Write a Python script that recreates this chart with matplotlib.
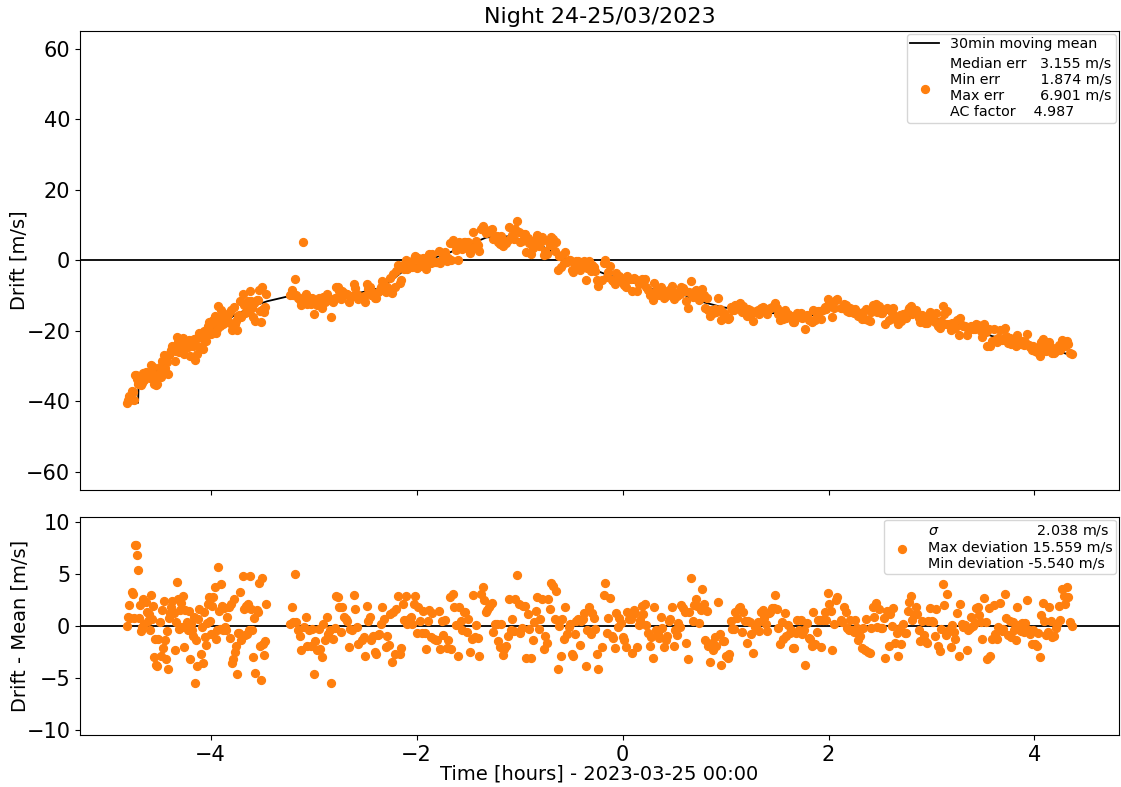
import numpy as np
import matplotlib.pyplot as plt

# 30 min moving mean (hours, m/s)
mean_t = [-4.75, -4.705, -4.70, -4.52, -4.36, -4.07, -3.78, -3.59, -3.45, -3.23,
          -3.00, -2.74, -2.48, -2.33, -2.15, -1.87, -1.68, -1.32, -1.10, -0.93,
          -0.78, -0.61, -0.45, -0.16, 0.10, 0.29, 0.58, 0.75, 0.97, 1.23,
          1.55, 1.81, 2.04, 2.30, 2.52, 2.81, 3.07, 3.34, 3.59, 3.82,
          4.07, 4.31, 4.36]
mean_v = [-40.4, -40.4, -35.6, -31.3, -26.5, -21.5, -15.8, -13.0, -11.6, -10.1,
          -10.5, -10.5, -8.7, -7.7, -3.5, 0.3, 2.2, 6.5, 6.8, 5.4,
          4.0, 1.1, -0.6, -4.0, -6.3, -8.2, -9.6, -11.6, -13.3, -14.4,
          -15.2, -15.8, -13.8, -14.4, -14.7, -15.8, -16.7, -18.9, -21.5, -22.9,
          -24.3, -26.5, -26.6]

# drift - mean, block by block (start, end in hours)
blocks = [
    (-4.81, -3.45, [
        0.0, 0.9, 2.0, 0.8, 3.3, 3.1, 0.8, 7.8, 7.8, 6.8, 5.4, 0.8, 2.0, -0.5, -0.1, 2.6,
        0.2, 2.3, 1.3, 0.5, 1.1, -0.4, 3.0, 0.7, 1.9, -3.0, -1.3, -3.8, -3.9, -1.3, 0.4,
        -2.9, 1.5, -2.1, 2.4, -1.4, -3.2, -0.5, -4.1, 0.8, 1.2, 1.8, 2.4, 1.2, -2.3, 0.4,
        4.2, 2.6, -0.3, 1.5, 2.2, -0.1, 2.9, -2.0, 1.5, 0.4, -0.4, 1.4, -3.2, 0.2, -0.4,
        -1.0, 0.9, -5.5, -1.4, -3.9, 0.7, 1.6, -2.7, -0.1, -3.6, 1.3, -1.1, -1.8, 0.3,
        2.1, 2.8, 0.5, -0.8, 1.9, 2.8, 3.7, -1.3, -0.4, 5.7, 1.4, -0.3, 4.0, 1.9, -0.4,
        1.7, -0.1, -0.4, 0.9, 1.8, -1.2, 2.1, -3.6, -3.2, 2.6, -2.5, -1.9, -4.6, -0.7,
        -0.7, 3.3, -1.4, 4.8, 1.6, -0.9, 1.9, -0.8, 2.1, -0.4, 4.8, 1.6, -0.4, -3.0,
        0.8, -4.5, 1.5, 1.3, 4.1, -1.9, -5.2, 4.6, -1.7, -2.8, -1.5, 2.1]),
    (-3.23, -2.55, [
        0.2, 1.8, 0.4, 5.0, 0.4, -0.4, -1.0, -2.3, 15.559, -0.1, 0.9, -1.9, -0.4, -1.9,
        -0.3, -4.6, -1.5, -2.3, -0.3, -2.2, -3.0, 0.2, -1.4, 0.9, -0.8, -0.4, -5.54,
        -1.3, -0.2, 2.9, 2.8, 1.8, -0.6, 1.8, 0.9, 0.7, 0.5, -2.0, -0.3, -0.4, 3.0, 1.6,
        -0.1, -1.7]),
    (-2.53, -0.22, [
        -1.4, -1.1, -2.9, 1.9, 0.5, 0.9, -1.4, -1.0, -2.5, -2.7, -0.9, -0.8, 0.2, 1.8,
        0.7, -2.0, -1.0, -1.8, 1.1, -3.5, 1.3, -2.7, 1.6, 2.9, -2.7, -2.1, 2.1, 0.6, 2.9,
        0.2, 0.7, 0.9, 0.2, 2.1, 2.9, -0.7, 1.8, 0.5, -0.7, 1.4, -0.7, -2.2, 0.5, 1.5,
        -1.1, 1.2, -1.3, -1.4, -1.4, 1.4, -2.2, 0.5, -0.9, 0.6, -2.1, -1.4, 2.8, -2.2,
        3.1, 1.8, 0.1, -2.9, 1.8, 0.5, -0.4, 1.3, 1.3, -0.6, 0.7, -2.5, -1.3, 3.0, -1.1,
        0.1, -1.2, -2.9, 3.1, 3.7, 2.5, 1.3, 1.5, 1.8, 2.0, 2.2, -0.6, 0.2, 0.2, -1.5,
        -2.0, 0.2, -2.8, -2.2, -1.9, -1.0, 2.6, -0.4, 0.7, -0.5, 2.6, 4.9, 2.1, -0.7,
        -0.2, 1.9, 1.9, -3.1, 1.1, -0.3, -3.1, -1.4, 0.4, 1.4, 2.8, -0.3, 0.7, 2.6,
        -2.2, -1.0, -1.6, 2.6, 1.6, 4.1, 3.8, 0.7, 3.4, -4.1, 0.0, -2.9, 0.7, -1.3, 1.8,
        -0.8, -0.1, 0.2, -2.7, -2.9, -0.8, 0.5, 0.7, -1.8, 0.5, 0.7, 1.2, -3.9, -0.4,
        1.8, -0.8, 1.2, 0.8, -0.3, -2.7, -4.1]),
    (-0.20, 2.10, [
        -2.0, 3.0, 4.1, -0.7, 0.8, 2.7, -1.0, -1.2, -2.1, 1.2, -0.1, 0.8, 0.3, -1.1, -1.4,
        -2.0, 1.3, 0.7, 0.7, -2.6, 1.5, 1.2, -2.0, 0.1, 0.6, 1.9, 1.1, 2.1, 0.1, -0.7,
        -1.9, -1.1, -3.1, 1.8, -0.4, -0.8, -1.2, 0.9, -0.2, -2.0, -1.4, -1.0, 0.5, 0.7,
        1.8, -1.9, -0.4, -0.9, 0.3, -0.1, 2.0, 1.7, 1.3, -1.6, -3.2, 1.3, 4.6, 0.5, 2.0,
        2.6, 1.9, 0.3, 1.5, 3.5, 2.1, -1.4, 1.4, -1.9, -3.5, -1.6, -2.3, -1.1, -1.9, 2.3,
        -0.8, -3.8, -1.5, -1.5, -2.9, -3.1, -2.7, 0.5, -0.3, -0.3, 1.3, 0.8, 1.7, 1.8,
        -0.6, 1.3, 0.5, -1.6, 0.5, 0.4, -0.8, -2.6, -0.1, 0.1, 0.4, -0.5, 1.3, 1.5, 0.8,
        0.2, -0.5, 1.2, 1.3, 1.7, 1.7, 3.0, 1.6, -0.2, -1.7, 0.4, -1.3, 1.2, -1.0, 0.1,
        -0.7, -0.4, -2.1, -2.1, -0.7, 0.6, -0.4, 0.6, -0.8, -0.4, -3.8, 0.3, -1.2, -1.3,
        -1.9, 1.3, -1.7, -0.6, 0.6, 0.6, -2.0, 0.6, 1.3, 0.6, 3.2, 2.1, 1.4, -2.3, 0.2,
        2.5, 2.8]),
    (2.12, 4.36, [
        0.6, 0.4, 1.8, 1.3, -0.2, -0.4, 0.6, -0.4, -0.6, 0.6, -0.2, -1.4, -1.0, -2.1,
        -0.2, -2.3, 0.7, -2.5, -2.6, -0.2, 1.8, 0.9, 2.2, -0.1, 1.6, -0.2, -0.2, 0.8,
        -3.1, 1.4, -1.9, 1.1, 0.0, 1.7, -1.6, -0.7, -2.9, -0.2, -1.7, 0.2, -0.7, -0.7,
        1.4, 2.3, 2.9, 0.6, 1.0, 1.8, 1.1, -0.4, -1.5, 0.5, -0.9, -1.5, -1.6, 0.5, 1.7,
        0.5, 0.4, -1.0, 1.6, -1.9, -2.4, -0.3, 4.0, 2.0, -0.9, 3.1, -0.4, -2.0, 0.1,
        -0.6, -1.3, 1.2, -2.9, 2.1, 0.2, -0.1, 0.1, -2.3, -0.4, -0.2, 0.9, 0.0, 0.3, 1.7,
        1.8, 1.0, 0.4, -1.3, 2.7, 0.4, -3.2, 1.7, -2.9, -1.3, 2.0, -0.8, -1.3, -0.1, 2.2,
        -0.5, -0.3, 3.1, 0.8, -0.9, 0.5, -1.1, 0.4, -0.4, -1.4, 1.8, 0.1, -0.5, 0.3,
        -0.6, 0.3, 2.5, -0.4, -0.8, -1.7, -0.4, -1.7, -1.9, -0.7, -3.0, 1.0, 2.2, 0.5,
        -0.9, -0.6, 1.8, 0.5, -1.1, -1.0, -0.2, 0.2, 1.9, 0.6, 3.5, 2.9, 2.1, 3.7, 2.8,
        0.4, 0.0]),
]

# legend numbers
median_err = 3.155
min_err = 1.874
max_err = 6.901
ac_factor = 4.987
sigma = 2.038
max_dev = 15.559
min_dev = -5.540

t_list = []
res_list = []
for i, (t0, t1, vals) in enumerate(blocks):
    last = i == len(blocks) - 1
    t_list.append(np.linspace(t0, t1, len(vals), endpoint=last))
    res_list.append(np.array(vals))
t = np.concatenate(t_list)
residual = np.concatenate(res_list)
drift = np.interp(t, mean_t, mean_v) + residual

orange = "#ff7f0e"
leg_fs = 10.3

fig = plt.figure(figsize=(11.21, 7.87), dpi=100)
gs = fig.add_gridspec(2, 1, height_ratios=[2.1, 1], hspace=0.08,
                      left=0.0714, right=0.998, top=0.9606, bottom=0.066)
ax1 = fig.add_subplot(gs[0])
ax2 = fig.add_subplot(gs[1], sharex=ax1)

ax1.plot(mean_t, mean_v, color="k", lw=1.3, label="30min moving mean")
lab1 = (f"Median err   {median_err:.3f} m/s\n"
        f"Min err         {min_err:.3f} m/s\n"
        f"Max err        {max_err:.3f} m/s\n"
        f"AC factor    {ac_factor:.3f}")
ax1.scatter(t, drift, s=32, color=orange, zorder=3, label=lab1)
ax1.axhline(0, color="k", lw=1.3)
ax1.set_ylim(-65, 65)
ax1.set_ylabel("Drift [m/s]", fontsize=14, labelpad=-2)
ax1.set_title("Night 24-25/03/2023", fontsize=16)
ax1.tick_params(labelsize=15)
ax1.tick_params(axis="x", labelbottom=False)
ax1.legend(loc="upper right", fontsize=leg_fs, borderpad=0.25,
           labelspacing=0.35, borderaxespad=0.2)

lab2 = (r"$\sigma$" + " " * 22 + f"{sigma:.3f} m/s\n"
        f"Max deviation {max_dev:.3f} m/s\n"
        f"Min deviation {min_dev:.3f} m/s")
ax2.scatter(t, residual, s=32, color=orange, zorder=3, label=lab2)
ax2.axhline(0, color="k", lw=1.3)
ax2.set_ylim(-10.5, 10.5)
ax2.set_yticks([-10, -5, 0, 5, 10])
ax2.set_ylabel("Drift - Mean [m/s]", fontsize=14, labelpad=-2)
ax2.set_xlabel("Time [hours] - 2023-03-25 00:00", fontsize=14, labelpad=0)
ax2.tick_params(labelsize=15)
ax2.legend(loc="upper right", fontsize=leg_fs, borderpad=0.25,
           labelspacing=0.35, borderaxespad=0.2)

fig.savefig("out.png", dpi=100)
